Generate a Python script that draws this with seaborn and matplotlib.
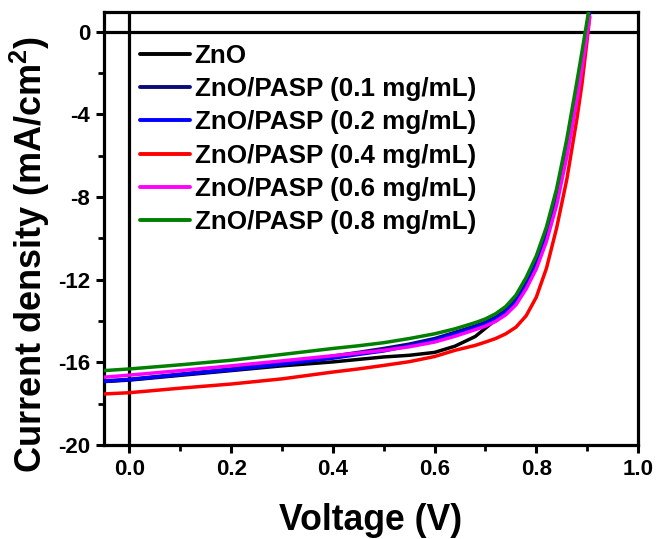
import numpy as np
import pandas as pd
import matplotlib
matplotlib.use("Agg")
import matplotlib.pyplot as plt
import seaborn as sns

# ---- data ----
voltage = [-0.05, 0.0, 0.1, 0.2, 0.3, 0.4, 0.45, 0.5, 0.55, 0.6, 0.64, 0.68, 0.70,
           0.72, 0.74, 0.76, 0.78, 0.80, 0.82, 0.84, 0.86, 0.88, 0.89, 0.90, 0.905]

j_zno = [-16.93, -16.86, -16.63, -16.40, -16.17, -15.98, -15.86, -15.74, -15.66, -15.52, -15.22, -14.75, -14.35,
         -13.95, -13.55, -13.05, -12.28, -11.25, -9.90, -8.10, -5.75, -2.95, -1.45, 0.12, 1.0]
j_01 = [-16.90, -16.82, -16.57, -16.32, -16.03, -15.70, -15.52, -15.33, -15.12, -14.85, -14.55, -14.24, -14.06,
        -13.82, -13.48, -12.98, -12.18, -11.18, -9.83, -8.03, -5.68, -2.88, -1.38, 0.18, 1.0]
j_02 = [-16.92, -16.84, -16.60, -16.37, -16.10, -15.80, -15.62, -15.45, -15.20, -14.92, -14.62, -14.30, -14.12,
        -13.88, -13.55, -13.05, -12.25, -11.25, -9.90, -8.10, -5.75, -2.95, -1.45, 0.10, 0.95]
j_04 = [-17.53, -17.47, -17.25, -17.05, -16.80, -16.47, -16.32, -16.15, -15.97, -15.72, -15.42, -15.18, -15.02,
        -14.85, -14.62, -14.30, -13.75, -12.85, -11.45, -9.50, -7.15, -4.20, -2.50, -0.40, 0.70]
j_06 = [-16.72, -16.62, -16.40, -16.17, -15.93, -15.68, -15.55, -15.42, -15.25, -15.02, -14.74, -14.42, -14.25,
        -14.02, -13.70, -13.22, -12.45, -11.48, -10.15, -8.40, -6.05, -3.30, -1.75, -0.15, 0.75]
j_08 = [-16.40, -16.32, -16.12, -15.90, -15.62, -15.33, -15.20, -15.05, -14.85, -14.62, -14.38, -14.08, -13.90,
        -13.65, -13.30, -12.75, -11.90, -10.85, -9.45, -7.60, -5.20, -2.40, -0.95, 0.55, 1.35]

labels = ["ZnO", "ZnO/PASP (0.1 mg/mL)", "ZnO/PASP (0.2 mg/mL)",
          "ZnO/PASP (0.4 mg/mL)", "ZnO/PASP (0.6 mg/mL)", "ZnO/PASP (0.8 mg/mL)"]
colors = ["#000000", "#0a0a78", "#0000ff", "#ff0000", "#ff00ff", "#008000"]
x_ticks = [0.0, 0.2, 0.4, 0.6, 0.8, 1.0]
y_ticks = [0, -4, -8, -12, -16, -20]

series = [j_zno, j_01, j_02, j_04, j_06, j_08]
frames = []
for lab, j in zip(labels, series):
    frames.append(pd.DataFrame({"Voltage": voltage, "J": j, "Sample": lab}))
df = pd.concat(frames, ignore_index=True)

# ---- style ----
sns.set_style("ticks")
plt.rcParams["font.family"] = ["Liberation Sans", "DejaVu Sans"]
plt.rcParams["font.weight"] = "bold"
plt.rcParams["text.color"] = "black"
plt.rcParams["axes.labelcolor"] = "black"
plt.rcParams["xtick.color"] = "black"
plt.rcParams["ytick.color"] = "black"
plt.rcParams["mathtext.fontset"] = "custom"
plt.rcParams["mathtext.rm"] = "Liberation Sans:bold"
plt.rcParams["mathtext.bf"] = "Liberation Sans:bold"

fig = plt.figure(figsize=(6.57, 5.39), dpi=100)
ax = fig.add_axes([104 / 657, 94 / 539, 534 / 657, 433 / 539])

ax.axhline(0, color="black", lw=2.3, zorder=1)
ax.axvline(0, color="black", lw=2.3, zorder=1)

sns.lineplot(data=df, x="Voltage", y="J", hue="Sample", hue_order=labels,
             palette=dict(zip(labels, colors)), sort=False, estimator=None,
             lw=2.5, ax=ax, zorder=3)

ax.set_xlim(-0.05, 1.0)
ax.set_ylim(-20, 0.95)
ax.set_xticks(x_ticks)
ax.set_xticklabels([f"{v:.1f}" for v in x_ticks])
ax.set_yticks(y_ticks)
ax.set_yticklabels([f"{v}" for v in y_ticks])
ax.set_xticks([0.1, 0.3, 0.5, 0.7, 0.9], minor=True)
ax.set_yticks([-2, -6, -10, -14, -18], minor=True)
ax.tick_params(axis="both", which="major", direction="out", length=6, width=2.2,
               labelsize=16, pad=4, colors="black")
ax.tick_params(axis="both", which="minor", direction="out", length=4, width=2.0)
for lbl in ax.get_xticklabels() + ax.get_yticklabels():
    lbl.set_fontweight("bold")

for sp in ax.spines.values():
    sp.set_visible(True)
    sp.set_linewidth(2.3)
    sp.set_color("black")

ax.set_xlabel("Voltage (V)", fontsize=25.7, fontweight="bold", labelpad=16.5)
ax.set_ylabel(r"Current density (mA/cm$^\mathbf{2}$)", fontsize=26, fontweight="bold")
ax.yaxis.set_label_coords(-0.098, 0.44)

leg = ax.legend(loc="upper left", bbox_to_anchor=(0.058, 0.939), frameon=False,
                prop={"size": 18.7, "weight": "bold"}, handlelength=1.9,
                handletextpad=0.2, labelspacing=0.36, borderpad=0.2, borderaxespad=0)
for h in leg.get_lines():
    h.set_linewidth(2.8)

fig.savefig("out.png", dpi=100)
